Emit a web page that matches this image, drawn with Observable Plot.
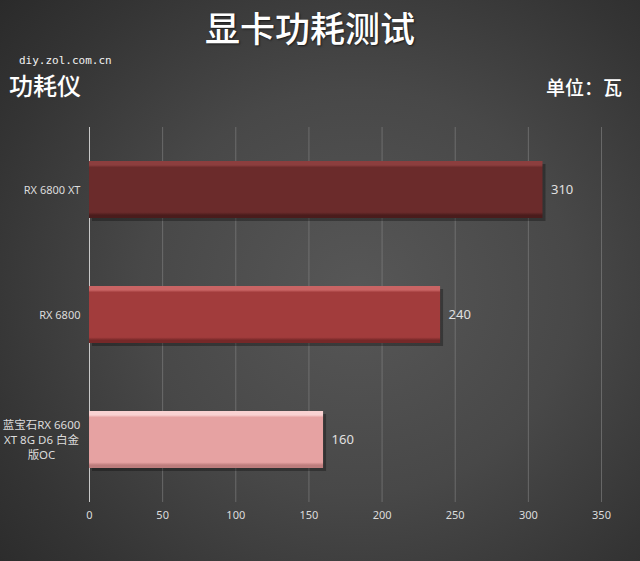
<!DOCTYPE html>
<html>
<head>
<meta charset="utf-8">
<script src="https://cdn.jsdelivr.net/npm/d3@7"></script>
<script src="https://cdn.jsdelivr.net/npm/@observablehq/plot@0.6"></script>
<style>
  html, body { margin: 0; padding: 0; }
  #wrap {
    position: relative; width: 640px; height: 561px; overflow: hidden;
    background: radial-gradient(ellipse 75% 80% at 56% 52%, #575757 0%, #484848 45%, #343434 80%, #2a2a2a 100%);
    font-family: "Noto Sans", "Noto Sans CJK SC", sans-serif;
  }
  .t { position: absolute; color: #fff; white-space: nowrap; }
  #title { top: 8px; left: 0; width: 620px; text-align: center; font-size: 35px; line-height: 37px;
           font-family: "Noto Sans CJK SC", sans-serif; font-weight: 500; text-shadow: 1px 1px 2px rgba(0,0,0,0.6); }
  #site { top: 54px; left: 19px; font-size: 11px; line-height: 13px; font-family: "DejaVu Sans Mono", monospace; color: #f2f2f2; }
  #left { top: 72px; left: 9px; font-size: 24px; line-height: 26px; font-family: "Noto Sans CJK SC", sans-serif; font-weight: 500; }
  #unit { top: 76px; right: 18px; font-size: 19px; line-height: 22px; font-family: "Noto Sans CJK SC", sans-serif; font-weight: 500; }
  #chart { position: absolute; top: 110px; left: 0; }
</style>
</head>
<body>
<div id="wrap">
  <div class="t" id="title">显卡功耗测试</div>
  <div class="t" id="site">diy.zol.com.cn</div>
  <div class="t" id="left">功耗仪</div>
  <div class="t" id="unit">单位：瓦</div>
  <div id="chart"></div>
</div>
<script>
const categories = ["RX 6800 XT", "RX 6800", "蓝宝石RX 6600\nXT 8G D6 白金\n版OC"];
const values = [310, 240, 160];
const xTicks = [0, 50, 100, 150, 200, 250, 300, 350];

const data = categories.map((name, i) => ({name, value: values[i]}));

// label lines for the y axis (centered, one mark per line index)
const labelLines = data.flatMap(d => {
  const parts = d.name.split("\n");
  return parts.map((line, i) => ({name: d.name, line, i, n: parts.length}));
});

// bevel gradients (style only)
const grads = [
  {id: "g0", top: "#8c3e3e", base: "#6b2b2b", bottom: "#4a1c1c"},
  {id: "g1", top: "#c96464", base: "#a23c3c", bottom: "#762828"},
  {id: "g2", top: "#f9d2d2", base: "#e6a2a2", bottom: "#bd7d7d"}
];

const font = '"Noto Sans", "Noto Sans CJK SC", sans-serif';
const LH = 15;

const labelMarks = [];
labelMarks.push(Plot.text(labelLines.filter(d => d.n === 1), {y: "name", frameAnchor: "left", text: "line",
  dx: -9, textAnchor: "end", fill: "#dcdcdc", fontSize: 11}));
for (let k = 0; k < 3; k++) {
  labelMarks.push(Plot.text(labelLines.filter(d => d.n === 3 && d.i === k), {y: "name", frameAnchor: "left", text: "line",
    dx: -48, dy: (k - 1) * LH, textAnchor: "middle", fill: "#dcdcdc", fontSize: 11.5}));
}

const chart = Plot.plot({
  width: 640,
  height: 451,
  marginTop: 17,
  marginBottom: 59,
  marginLeft: 89,
  marginRight: 39,
  style: {background: "transparent", color: "#dcdcdc", fontFamily: font, fontSize: "11px"},
  x: {domain: [0, 350], ticks: xTicks, tickSize: 0, tickPadding: 9, label: null},
  y: {domain: categories, paddingInner: 0.54, paddingOuter: 0.27, axis: null},
  color: {type: "ordinal", domain: categories, range: grads.map(g => `url(#${g.id})`)},
  marks: [
    Plot.ruleX(xTicks, {stroke: "#8a8a8a", strokeOpacity: 0.55, strokeWidth: 1}),
    Plot.ruleX([0], {stroke: "#c8c8c8", strokeWidth: 1}),
    Plot.barX(data, {y: "name", x: "value", fill: "#000", fillOpacity: 0.3, dx: 3, dy: 3}),
    Plot.barX(data, {y: "name", x: "value", fill: "name"}),
    Plot.text(data, {y: "name", x: "value", text: d => String(d.value), dx: 8, textAnchor: "start",
                     fill: "#e0e0e0", fontSize: 13}),
    ...labelMarks
  ]
});

const NS = "http://www.w3.org/2000/svg";
const defs = document.createElementNS(NS, "defs");
for (const g of grads) {
  const lg = document.createElementNS(NS, "linearGradient");
  lg.setAttribute("id", g.id);
  lg.setAttribute("x1", "0"); lg.setAttribute("y1", "0");
  lg.setAttribute("x2", "0"); lg.setAttribute("y2", "1");
  [[0, g.top], [0.07, g.top], [0.11, g.base], [0.9, g.base], [0.95, g.bottom], [1, g.bottom]].forEach(([o, c]) => {
    const s = document.createElementNS(NS, "stop");
    s.setAttribute("offset", o);
    s.setAttribute("stop-color", c);
    lg.appendChild(s);
  });
  defs.appendChild(lg);
}
chart.insertBefore(defs, chart.firstChild);
document.getElementById("chart").appendChild(chart);
</script>
</body>
</html>
